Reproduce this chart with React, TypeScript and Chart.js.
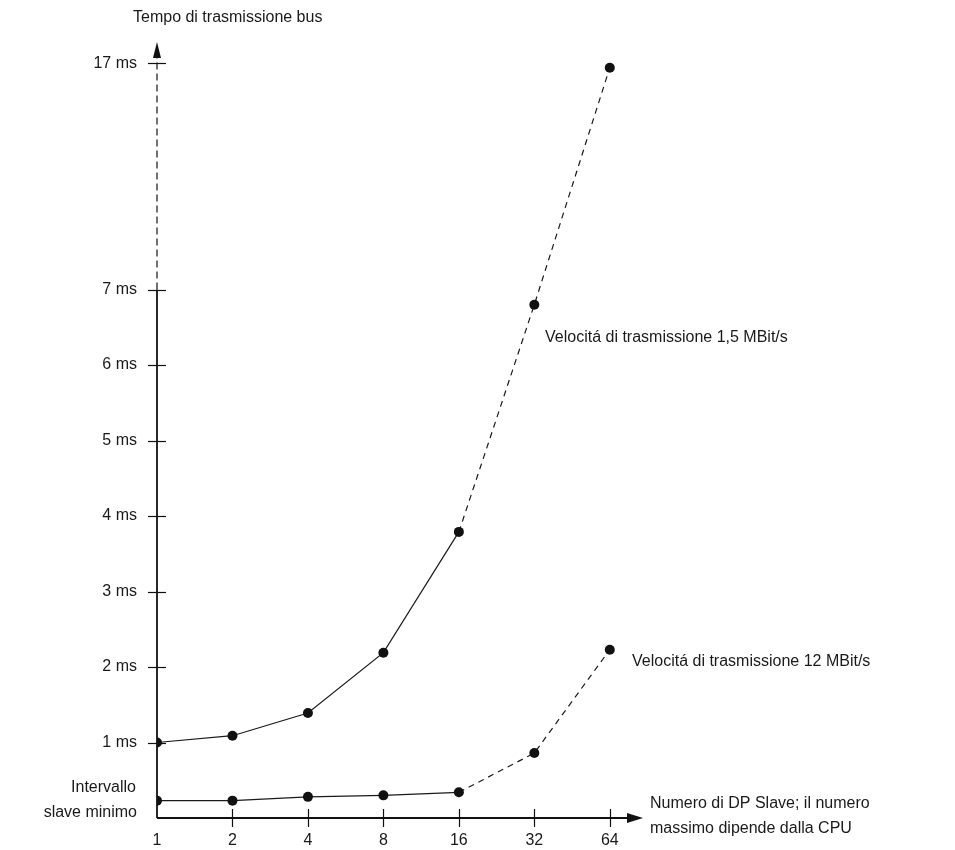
import React, { useEffect, useRef } from "react";
import { Chart, registerables } from "chart.js";

Chart.register(...registerables);

// ---- data ----
const categories = ["1", "2", "4", "8", "16", "32", "64"];
const rate15Values = [1.0, 1.09, 1.39, 2.19, 3.79, 6.8, 16.8]; // ms, 1,5 MBit/s
const rate12Values = [0.23, 0.23, 0.28, 0.3, 0.34, 0.86, 2.23]; // ms, 12 MBit/s
const yTickValues = [1, 2, 3, 4, 5, 6, 7, 17];
const yTickLabels = ["1 ms", "2 ms", "3 ms", "4 ms", "5 ms", "6 ms", "7 ms", "17 ms"];
const yAxisTitle = "Tempo di trasmissione bus";
const xAxisTitle = ["Numero di DP Slave; il numero", "massimo dipende dalla CPU"];
const minLabel = ["Intervallo", "slave minimo"];
const label15 = "Velocitá di trasmissione 1,5 MBit/s";
const label12 = "Velocitá di trasmissione 12 MBit/s";

// broken y axis: above 7 ms the axis is compressed
const BREAK = 7;
const COMPRESS = 0.3;
const toAxis = (v: number) => (v <= BREAK ? v : BREAK + (v - BREAK) * COMPRESS);

const FONT = '"Liberation Sans", Arial, Helvetica, sans-serif';

const axesPlugin = {
  id: "customAxes",
  beforeDatasetsDraw(chart: any) {
    const { ctx, chartArea, scales } = chart;
    const xs = scales.x;
    const ys = scales.y;
    const x0 = chartArea.left;
    const y0 = chartArea.bottom;
    ctx.save();
    ctx.strokeStyle = "#111";
    ctx.fillStyle = "#111";
    ctx.lineWidth = 1.8;
    // y axis solid part
    const yBreak = ys.getPixelForValue(toAxis(BREAK));
    ctx.beginPath();
    ctx.moveTo(x0, y0);
    ctx.lineTo(x0, yBreak);
    ctx.stroke();
    // dashed part
    ctx.lineWidth = 1.2;
    ctx.setLineDash([7, 4]);
    ctx.beginPath();
    ctx.moveTo(x0, yBreak);
    ctx.lineTo(x0, chartArea.top + 16);
    ctx.stroke();
    ctx.setLineDash([]);
    // y arrow
    ctx.beginPath();
    ctx.moveTo(x0, chartArea.top);
    ctx.lineTo(x0 - 4, chartArea.top + 16);
    ctx.lineTo(x0 + 4, chartArea.top + 16);
    ctx.closePath();
    ctx.fill();
    // x axis
    ctx.lineWidth = 1.8;
    ctx.beginPath();
    ctx.moveTo(x0, y0);
    ctx.lineTo(chartArea.right - 14, y0);
    ctx.stroke();
    ctx.beginPath();
    ctx.moveTo(chartArea.right, y0);
    ctx.lineTo(chartArea.right - 16, y0 - 5);
    ctx.lineTo(chartArea.right - 16, y0 + 5);
    ctx.closePath();
    ctx.fill();
    // y tick marks
    ctx.lineWidth = 1.2;
    yTickValues.forEach((v) => {
      const py = Math.round(ys.getPixelForValue(toAxis(v))) + 0.5;
      ctx.beginPath();
      ctx.moveTo(x0 - 9, py);
      ctx.lineTo(x0 + 9, py);
      ctx.stroke();
    });
    // x tick marks
    categories.forEach((_, i) => {
      if (i === 0) return;
      const px = Math.round(xs.getPixelForValue(i)) + 0.5;
      ctx.beginPath();
      ctx.moveTo(px, y0 - 9);
      ctx.lineTo(px, y0 + 9);
      ctx.stroke();
    });
    ctx.restore();
  },
  afterDraw(chart: any) {
    const { ctx } = chart;
    ctx.save();
    ctx.fillStyle = "#1a1a1a";
    ctx.font = `16px ${FONT}`;
    ctx.textBaseline = "middle";
    ctx.textAlign = "left";
    ctx.fillText(yAxisTitle, 133, 18);
    ctx.fillText(label15, 545, 338);
    ctx.fillText(label12, 632, 662);
    ctx.fillText(xAxisTitle[0], 650, 804);
    ctx.fillText(xAxisTitle[1], 650, 829);
    ctx.textAlign = "right";
    ctx.fillText(minLabel[0], 136, 788);
    ctx.fillText(minLabel[1], 137, 813);
    ctx.restore();
  },
};

export default function App() {
  const ref = useRef<HTMLCanvasElement | null>(null);
  useEffect(() => {
    if (!ref.current) return;
    const dash = (ctx: any) => (ctx.p0DataIndex >= 4 ? [6, 5] : undefined);
    const mk = (vals: number[], label: string) => ({
      label,
      data: vals.map((v, i) => ({ x: i, y: toAxis(v) })),
      borderColor: "#1a1a1a",
      backgroundColor: "#111",
      borderWidth: 1.2,
      pointRadius: 5,
      pointBorderWidth: 0,
      pointBackgroundColor: "#111",
      tension: 0,
      segment: { borderDash: dash },
    });
    const chart = new Chart(ref.current, {
      type: "line",
      data: { datasets: [mk(rate15Values, label15), mk(rate12Values, label12)] },
      options: {
        animation: false,
        responsive: false,
        devicePixelRatio: 1,
        layout: { padding: { top: 42, right: 312, left: 0, bottom: 0 } },
        plugins: { legend: { display: false }, tooltip: { enabled: false } },
        scales: {
          x: {
            type: "linear",
            min: 0,
            max: 6.44,
            grid: { display: false, drawTicks: false },
            border: { display: false },
            afterBuildTicks: (s: any) => {
              s.ticks = categories.map((_, i) => ({ value: i }));
            },
            afterFit: (s: any) => {
              s.height = 32;
            },
            ticks: {
              padding: 13,
              color: "#1a1a1a",
              font: { size: 16, family: FONT },
              maxRotation: 0,
              autoSkip: false,
              callback: (v: any) => categories[Math.round(Number(v))] ?? "",
            },
          },
          y: {
            type: "linear",
            min: 0,
            max: 10.28,
            grid: { display: false, drawTicks: false },
            border: { display: false },
            afterBuildTicks: (s: any) => {
              s.ticks = yTickValues.map((v) => ({ value: toAxis(v) }));
            },
            afterFit: (s: any) => {
              s.width = 157;
            },
            ticks: {
              padding: 20,
              color: "#1a1a1a",
              font: { size: 16, family: FONT },
              autoSkip: false,
              callback: (v: any) => {
                const i = yTickValues.findIndex((t) => Math.abs(toAxis(t) - Number(v)) < 1e-6);
                return i >= 0 ? yTickLabels[i] : "";
              },
            },
          },
        },
      },
      plugins: [axesPlugin],
    });
    return () => chart.destroy();
  }, []);
  return (
    <div style={{ position: "absolute", left: 0, top: 0, width: 955, height: 850 }}>
      <canvas ref={ref} width={955} height={850} style={{ display: "block" }} />
    </div>
  );
}
